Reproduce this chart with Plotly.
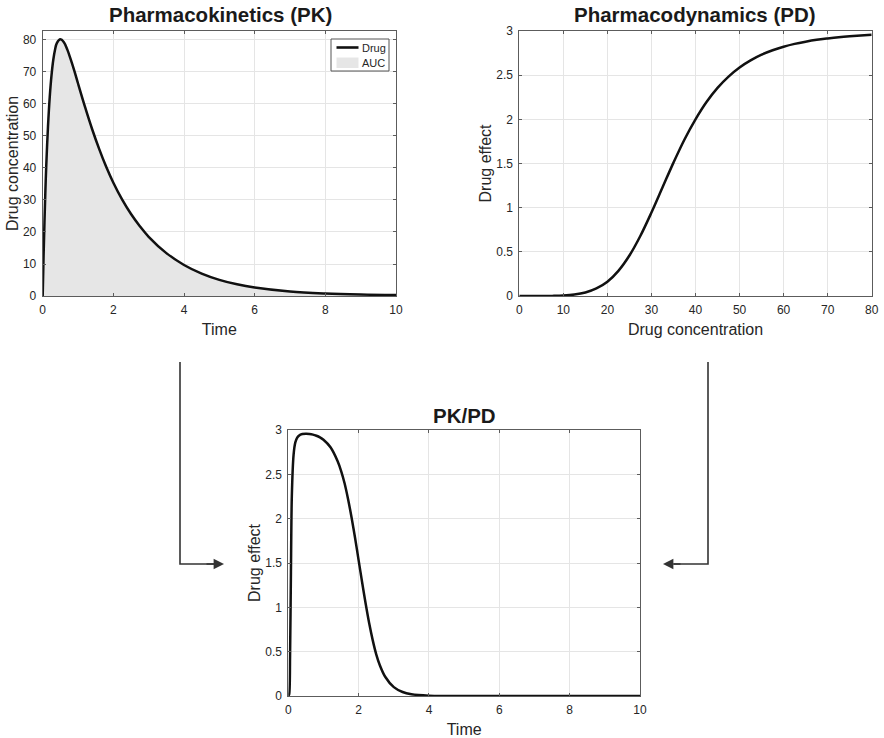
import plotly.graph_objects as go

# ---- Pharmacokinetics: plasma concentration over time ----
pk_time = [0, 0.025, 0.05, 0.075, 0.1, 0.15, 0.2, 0.25, 0.3, 0.35, 0.4, 0.5,
           0.6, 0.7, 0.8, 0.9, 1.0, 1.2, 1.4, 1.6, 1.8, 2.0, 2.25, 2.5, 2.75,
           3.0, 3.5, 4.0, 4.5, 5.0, 5.5, 6.0, 7.0, 8.0, 9.0, 10.0]
pk_conc = [0, 12.5, 23, 32.5, 40.5, 53, 62.3, 69, 73.8, 77, 79, 80.2,
           79.3, 76.9, 73.7, 70.2, 66.4, 59.0, 52.1, 45.9, 40.3, 35.4, 30.1,
           25.6, 21.8, 18.5, 13.4, 9.7, 7.0, 5.05, 3.65, 2.65, 1.4, 0.78, 0.45,
           0.28]

# ---- Pharmacodynamics: effect versus concentration ----
pd_conc = [0, 2.5, 5, 7.5, 10, 12.5, 15, 17.5, 20, 22.5, 25, 27.5, 30, 32.5,
           35, 37.5, 40, 42.5, 45, 47.5, 50, 52.5, 55, 57.5, 60, 62.5, 65,
           67.5, 70, 72.5, 75, 77.5, 80]
pd_effect = [0, 0, 0.0002, 0.0012, 0.005, 0.016, 0.04, 0.086, 0.162, 0.285,
             0.458, 0.682, 0.945, 1.228, 1.51, 1.772, 2.0, 2.196, 2.356, 2.484,
             2.587, 2.667, 2.732, 2.782, 2.822, 2.854, 2.879, 2.900, 2.916,
             2.930, 2.941, 2.950, 2.957]

# ---- PK/PD: effect over time ----
pkpd_time = [0, 0.025, 0.05, 0.075, 0.1, 0.15, 0.2, 0.25, 0.3, 0.4, 0.5, 0.6,
             0.7, 0.8, 0.9, 1.0, 1.2, 1.4, 1.5, 1.6, 1.7, 1.8, 1.9, 2.0, 2.1,
             2.2, 2.3, 2.4, 2.5, 2.6, 2.75, 3.0, 3.25, 3.5, 4.0, 4.5, 5.0, 6.0,
             7.0, 8.0, 9.0, 10.0]
pkpd_effect = [0, 0.02, 0.45, 1.4, 2.25, 2.72, 2.86, 2.91, 2.935, 2.954, 2.957,
               2.955, 2.948, 2.935, 2.917, 2.89, 2.805, 2.65, 2.54, 2.4, 2.22,
               2.01, 1.78, 1.53, 1.28, 1.04, 0.82, 0.63, 0.47, 0.35, 0.22, 0.1,
               0.045, 0.02, 0.004, 0.001, 0, 0, 0, 0, 0, 0]

pk_xticks = [0, 2, 4, 6, 8, 10]
pk_yticks = [0, 10, 20, 30, 40, 50, 60, 70, 80]
pd_xticks = [0, 10, 20, 30, 40, 50, 60, 70, 80]
effect_ticks = [0, 0.5, 1, 1.5, 2, 2.5, 3]

legend_names = ["Drug", "AUC"]

W, H = 884, 738
FONT = "Liberation Sans, Arial, Helvetica, sans-serif"
TXT = "#262626"
GRID = "#e5e5e5"
AX = "#5c5c5c"
CURVE = "#111111"
AUC_FILL = "#e6e6e6"


def px(x):
    return x / W


def py(y):
    return 1 - y / H


fig = go.Figure()

# AUC shading and drug curve
fig.add_trace(go.Scatter(x=pk_time, y=pk_conc, name=legend_names[1], mode="lines",
                         fill="tozeroy", fillcolor=AUC_FILL, showlegend=False,
                         line=dict(width=0, shape="spline", smoothing=1.0),
                         xaxis="x", yaxis="y"))
fig.add_trace(go.Scatter(x=pk_time, y=pk_conc, name=legend_names[0], mode="lines",
                         showlegend=False,
                         line=dict(color=CURVE, width=2.5, shape="spline", smoothing=1.0),
                         xaxis="x", yaxis="y"))

fig.add_trace(go.Scatter(x=pd_conc, y=pd_effect, mode="lines", showlegend=False,
                         line=dict(color=CURVE, width=2.5, shape="spline", smoothing=1.0),
                         xaxis="x2", yaxis="y2"))
fig.add_trace(go.Scatter(x=pkpd_time, y=pkpd_effect, mode="lines", showlegend=False,
                         line=dict(color=CURVE, width=2.5, shape="spline", smoothing=0.8),
                         xaxis="x3", yaxis="y3"))


def axis(domain, rng, ticks, title, anchor, standoff):
    return dict(domain=domain, range=rng, tickvals=ticks,
                ticktext=[("%g" % t) for t in ticks],
                showgrid=True, gridcolor=GRID, gridwidth=1,
                showline=True, linecolor=AX, linewidth=1, mirror="ticks",
                ticks="inside", ticklen=3, tickcolor=AX, zeroline=False,
                ticklabelstandoff=3,
                tickfont=dict(family=FONT, size=12, color=TXT),
                title=dict(text=title, font=dict(family=FONT, size=16, color=TXT),
                           standoff=standoff),
                anchor=anchor, automargin=False, fixedrange=True)


pk_xd = [px(42.7), px(396)]
pk_yd = [py(296), py(31)]
pd_xd = [px(519.3), px(871.7)]
pkpd_xd = [px(288.3), px(640)]
pkpd_yd = [py(696), py(430)]

fig.update_layout(
    width=W, height=H,
    margin=dict(l=0, r=0, t=0, b=0),
    paper_bgcolor="white", plot_bgcolor="white",
    font=dict(family=FONT, color=TXT),
    xaxis=axis(pk_xd, [0, 10], pk_xticks, "Time", "y", 7),
    yaxis=axis(pk_yd, [0, 82.8], pk_yticks, "Drug concentration", "x", 0),
    xaxis2=axis(pd_xd, [0, 80], pd_xticks, "Drug concentration", "y2", 7),
    yaxis2=axis(pk_yd, [0, 3], effect_ticks, "Drug effect", "x2", 0),
    xaxis3=axis(pkpd_xd, [0, 10], pk_xticks, "Time", "y3", 7),
    yaxis3=axis(pkpd_yd, [0, 3], effect_ticks, "Drug effect", "x3", 0),
    showlegend=False,
)

# Legend box for the PK panel
fig.add_shape(type="rect", xref="paper", yref="paper",
              x0=px(331), x1=px(389), y0=py(71), y1=py(39),
              fillcolor="white", line=dict(color="#555555", width=1))
fig.add_shape(type="line", xref="paper", yref="paper",
              x0=px(336.5), x1=px(358.5), y0=py(47.5), y1=py(47.5),
              line=dict(color=CURVE, width=2.6))
fig.add_shape(type="rect", xref="paper", yref="paper",
              x0=px(336.5), x1=px(358.5), y0=py(68), y1=py(57.5),
              fillcolor=AUC_FILL, line=dict(width=0))
for name, yc in zip(legend_names, [48, 63]):
    fig.add_annotation(text=name, x=px(360), y=py(yc), xref="paper", yref="paper",
                       showarrow=False, xanchor="left", yanchor="middle",
                       font=dict(family=FONT, size=11, color=TXT))

# Panel titles
titles = [("Pharmacokinetics (PK)", 220, 15),
          ("Pharmacodynamics (PD)", 695, 15),
          ("PK/PD", 464, 416)]
for text, x, y in titles:
    fig.add_annotation(text="<b>%s</b>" % text, x=px(x), y=py(y), xref="paper",
                       yref="paper", showarrow=False, xanchor="center",
                       yanchor="middle",
                       font=dict(family=FONT, size=20.5, color="#1a1a1a"))

# Connector arrows from the PK and PD panels into the PK/PD panel
ARROW = "#333333"
fig.add_shape(type="path", xref="paper", yref="paper",
              path="M %f,%f L %f,%f L %f,%f" % (px(180), py(362), px(180), py(564),
                                                 px(214), py(564)),
              line=dict(color=ARROW, width=1.6))
fig.add_shape(type="path", xref="paper", yref="paper",
              path="M %f,%f L %f,%f L %f,%f" % (px(708), py(362), px(708), py(564),
                                                 px(674), py(564)),
              line=dict(color=ARROW, width=1.6))
fig.add_annotation(x=px(224), y=py(564), ax=-19, ay=0, xref="paper",
                   yref="paper", axref="pixel", ayref="pixel", text="",
                   showarrow=True, arrowhead=2, arrowsize=1.3, arrowwidth=1.6,
                   arrowcolor=ARROW)
fig.add_annotation(x=px(663), y=py(564), ax=19, ay=0, xref="paper",
                   yref="paper", axref="pixel", ayref="pixel", text="",
                   showarrow=True, arrowhead=2, arrowsize=1.3, arrowwidth=1.6,
                   arrowcolor=ARROW)

fig.write_html("out.html", config=dict(displayModeBar=False))
